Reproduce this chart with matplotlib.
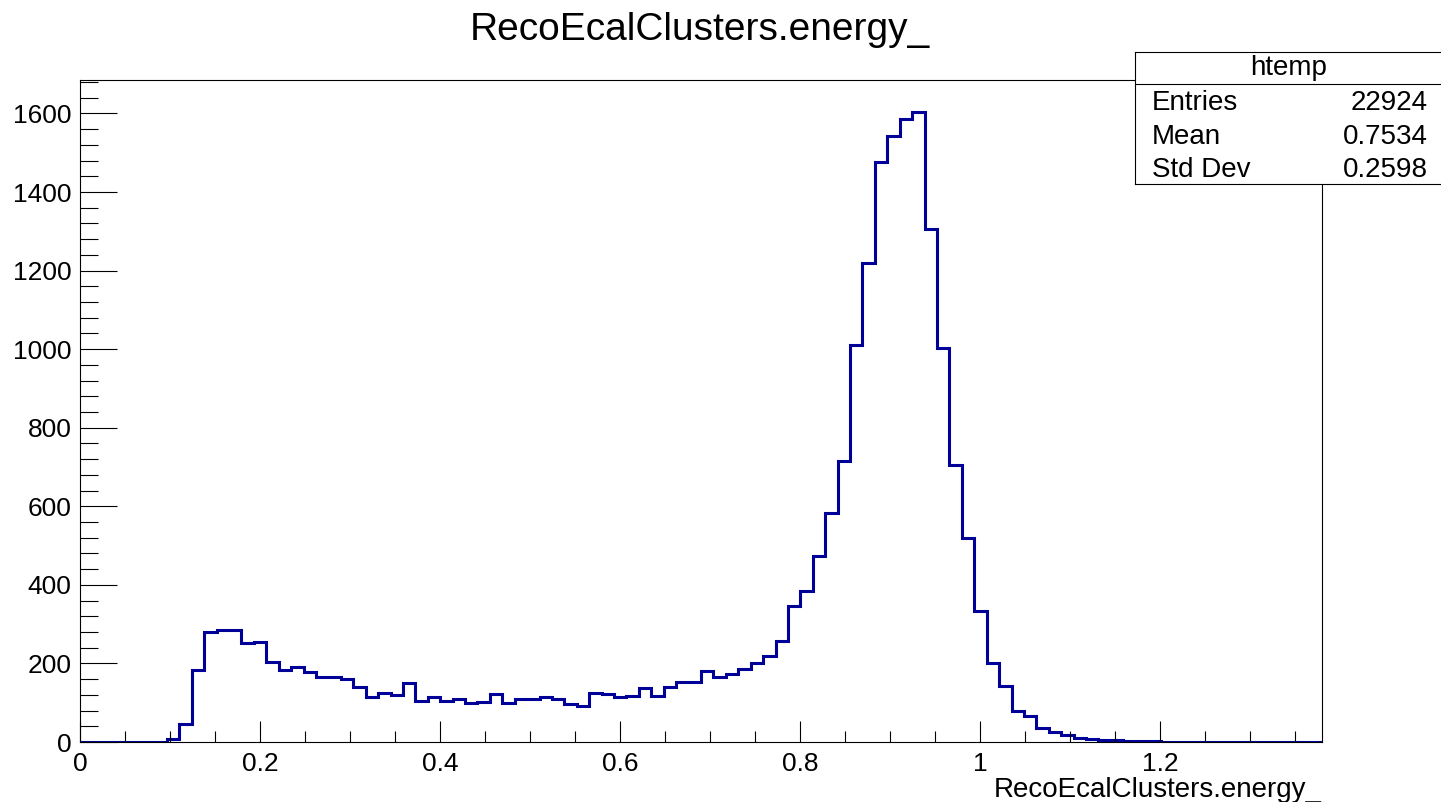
import numpy as np
import matplotlib
matplotlib.use('Agg')
import matplotlib.pyplot as plt
from matplotlib.ticker import MultipleLocator
from matplotlib.lines import Line2D

plt.rcParams['font.family'] = ['Liberation Sans', 'DejaVu Sans']

# histogram: 100 bins from 0 to 1.38
xmin, xmax, nbins = 0.0, 1.38, 100
counts = [0, 0, 0, 0, 0, 0, 0, 8, 47, 183,
          279, 285, 285, 252, 255, 204, 183, 190, 177, 165,
          165, 160, 141, 114, 125, 120, 149, 105, 115, 105,
          109, 100, 103, 122, 100, 109, 109, 115, 109, 97,
          92, 126, 122, 114, 117, 138, 118, 141, 154, 154,
          181, 165, 172, 185, 202, 220, 258, 347, 385, 474,
          584, 715, 1010, 1220, 1476, 1542, 1585, 1605, 1306, 1002,
          705, 519, 334, 201, 142, 78, 66, 36, 25, 17,
          11, 7, 4, 6, 3, 2, 2, 1, 1, 0,
          0, 0, 0, 0, 0, 0, 0, 0, 0, 0]
edges = np.linspace(xmin, xmax, nbins + 1)

title = 'RecoEcalClusters.energy_'
stat_names = ['Entries', 'Mean', 'Std Dev']
stat_values = ['22924', '0.7534', '0.2598']

W, H = 1441, 802
fig = plt.figure(figsize=(W / 100, H / 100), dpi=100)
ax = fig.add_axes([80 / W, 1 - 742 / H, (1322 - 80) / W, (742 - 80) / H])

ax.stairs(counts, edges, color='#000099', linewidth=2.2)
ax.set_xlim(xmin, xmax)
ax.set_ylim(0, 1.05 * max(counts))

ax.xaxis.set_major_locator(MultipleLocator(0.2))
ax.xaxis.set_minor_locator(MultipleLocator(0.05))
ax.yaxis.set_major_locator(MultipleLocator(200))
ax.yaxis.set_minor_locator(MultipleLocator(40))
ax.xaxis.set_major_formatter(lambda v, p: '%g' % round(v, 2))
ax.tick_params(axis='both', which='both', direction='in', top=False, right=False,
               labelsize=19, width=0.8, color='black')
ax.tick_params(axis='x', which='major', length=15, pad=7)
ax.tick_params(axis='x', which='minor', length=8)
ax.tick_params(axis='y', which='major', length=26.5, pad=6)
ax.tick_params(axis='y', which='minor', length=13)
for s in ax.spines.values():
    s.set_linewidth(0.8)

ax.set_xlabel(title, loc='right', fontsize=20, labelpad=1)
fig.text(700 / W, 1 - 30 / H, title, ha='center', va='center', fontsize=28)

# stats box
sb = fig.add_axes([1135 / W, 1 - 184 / H, 320 / W, (184 - 52) / H])
sb.set_xlim(1135, 1455)
sb.set_ylim(184, 52)
sb.set_xticks([])
sb.set_yticks([])
sb.set_facecolor('white')
for s in sb.spines.values():
    s.set_linewidth(0.8)
sb.add_line(Line2D([1135, 1455], [83.5, 83.5], color='black', linewidth=0.8))
sb.text(1289, 68, 'htemp', ha='center', va='center', fontsize=20)
for name, val, yy in zip(stat_names, stat_values, [103, 137, 170]):
    sb.text(1152, yy, name, ha='left', va='center', fontsize=20)
    sb.text(1428, yy, val, ha='right', va='center', fontsize=20)

fig.savefig('out.png', dpi=100)
